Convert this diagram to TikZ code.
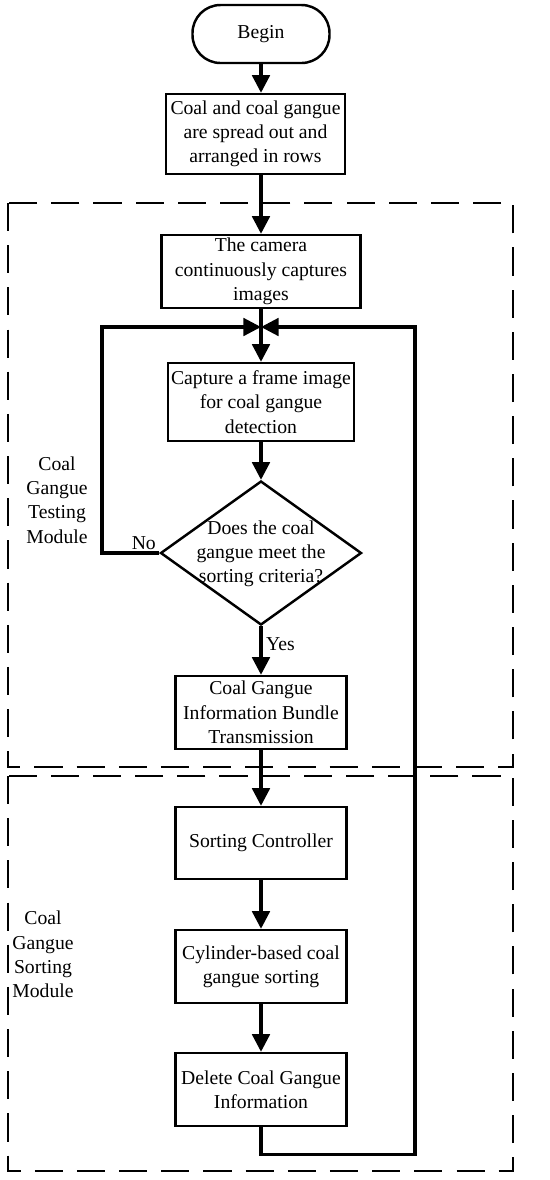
\documentclass[tikz,border=0pt]{standalone}
\usepackage{fontspec}
\setmainfont{Liberation Serif}
\usetikzlibrary{arrows.meta, positioning, shapes.geometric}

\begin{document}
\begin{tikzpicture}[
  every node/.style={font=\fontsize{11.2}{13.8}\selectfont},
  procbox/.style={rectangle, draw, line width=1.4pt, minimum width=3.42cm, minimum height=1.46cm, align=center, inner sep=1pt},
  termbox/.style={rectangle, draw, line width=1.4pt, rounded corners=0.56cm, minimum width=2.74cm, minimum height=1.16cm},
  decbox/.style={diamond, draw, line width=1.4pt, minimum width=4.02cm, minimum height=2.88cm, inner sep=0pt},
  flow/.style={-{Triangle[length=10pt, width=10pt]}, line width=1.8pt},
  modulebox/.style={draw, line width=1.2pt, dash pattern=on 16pt off 8pt},
]
\useasboundingbox (0,0) rectangle (11,-23.6);

% Module frames
\draw[modulebox] (0.16,-4.06) rectangle (10.26,-15.34);
\draw[modulebox] (0.16,-15.52) rectangle (10.26,-23.42);
\node[align=center] (testlbl) at (1.14,-10.0) {Coal\\Gangue\\Testing\\Module};
\node[align=center] (sortlbl) at (0.86,-19.09) {Coal\\Gangue\\Sorting\\Module};

% Main column
\node[termbox] (begin) at (5.22,-0.68) {Begin};
\node[procbox, minimum width=3.58cm, minimum height=1.6cm] (spread) at (5.11,-2.68) {Coal and coal gangue\\are spread out and\\arranged in rows};
\node[procbox, minimum width=3.98cm] (camera) at (5.22,-5.43) {The camera\\continuously captures\\images};
\node[procbox, minimum width=3.72cm, minimum height=1.56cm] (capture) at (5.22,-8.04) {Capture a frame image\\for coal gangue\\detection};
\node[decbox] (check) at (5.22,-11.06) {};
\node[align=center, inner sep=0pt] (checktext) at (5.22,-11.08) {Does the coal\\gangue meet the\\sorting criteria?};
\node[procbox] (bundle) at (5.22,-14.25) {Coal Gangue\\Information Bundle\\Transmission};
\node[procbox, minimum height=1.44cm] (sortctl) at (5.22,-16.86) {Sorting Controller};
\node[procbox] (cylinder) at (5.22,-19.33) {Cylinder-based coal\\gangue sorting};
\node[procbox] (delinfo) at (5.22,-21.79) {Delete Coal Gangue\\Information};

% Loop corners
\coordinate (join) at (5.22,-6.54);
\coordinate (notop) at (2.04,-6.54);
\coordinate (backtop) at (8.3,-6.54);

% Connectors
\draw[flow] (begin.south) -- (begin.south |- spread.north);
\draw[flow] (spread.south -| camera.north) -- (camera.north);
\draw[flow] (camera) -- (capture);
\draw[flow] (capture) -- (check);
\draw[flow] (check.west) -- node[above, pos=0.27, inner sep=1pt] {No} (check.west -| notop) -- (notop) -- (join);
\draw[flow] (check.south) -- node[right, pos=0.37, inner sep=2pt] {Yes} (bundle.north);
\draw[flow] (bundle) -- (sortctl);
\draw[flow] (sortctl) -- (cylinder);
\draw[flow] (cylinder) -- (delinfo);
\draw[flow] (delinfo.south) -- ++(0,-0.54) -| (backtop) -- (join);

\end{tikzpicture}
\end{document}
